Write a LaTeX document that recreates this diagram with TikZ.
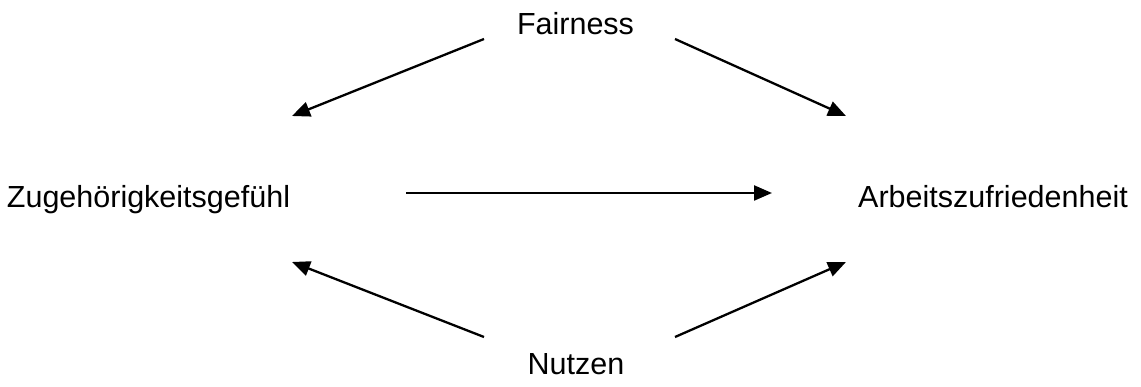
\documentclass[tikz,border=0pt]{standalone}
\usepackage{fontspec}
\setmainfont{Liberation Sans}
\usetikzlibrary{arrows.meta}
\begin{document}
\begin{tikzpicture}[x=1pt,y=-1pt,
  lbl/.style={inner sep=0pt,anchor=base,font=\fontsize{30.5}{36}\selectfont},
  conn/.style={line width=2.3pt,-{Triangle[length=18pt,width=15pt]}}]
\useasboundingbox (0,0) rectangle (1141,387);
\node[lbl] (fair) at (575.5,35) {Fairness};
\node[lbl] (zug) at (148.5,208) {Zugehörigkeitsgefühl};
\node[lbl] (arb) at (993,208) {Arbeitszufriedenheit};
\node[lbl] (nutz) at (576,374) {Nutzen};
\coordinate (fL) at (484,39);
\coordinate (fR) at (675,39);
\coordinate (zT) at (292,116);
\coordinate (aT) at (846,116);
\coordinate (zR) at (406,193);
\coordinate (aL) at (772,193);
\coordinate (zB) at (292,262);
\coordinate (aB) at (846,262);
\coordinate (nL) at (484,337);
\coordinate (nR) at (675,337);
\draw[conn] (fL) -- (zT);
\draw[conn] (fR) -- (aT);
\draw[conn] (zR) -- (aL);
\draw[conn] (nL) -- (zB);
\draw[conn] (nR) -- (aB);
\end{tikzpicture}
\end{document}
